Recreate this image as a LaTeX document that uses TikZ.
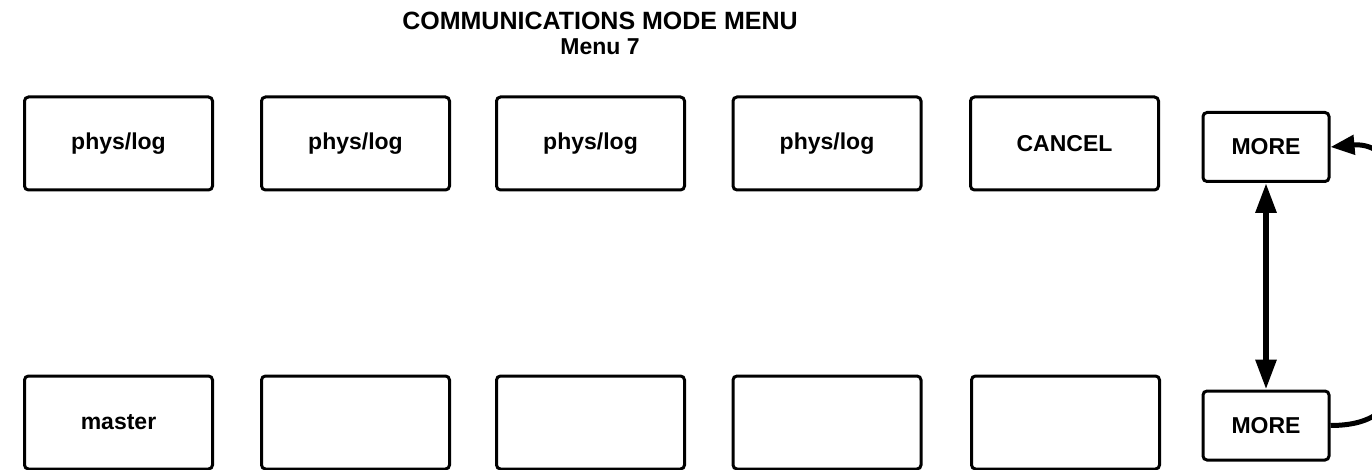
\documentclass[tikz,border=0pt]{standalone}
\usepackage{fontspec}
\setmainfont{Liberation Sans}
\usetikzlibrary{arrows.meta}

\tikzset{
  key/.style={draw, line width=3pt, rounded corners=4pt, minimum width=188pt,
    minimum height=93pt, inner sep=0pt, font=\fontsize{23}{27}\selectfont\bfseries},
  morekey/.style={key, minimum width=126pt, minimum height=69pt}
}

\begin{document}
\begin{tikzpicture}[x=1pt, y=-1pt]
            \useasboundingbox (0,0) rectangle (1372,470);

            % Draw the title
            \node[font=\fontsize{25}{29}\selectfont\bfseries] (title) at (600,21) {COMMUNICATIONS MODE MENU};
            \node[font=\fontsize{23}{27}\selectfont\bfseries] (menu) at (600,47) {Menu 7};

            % Draw the upper row of keys
            \node[key] (k1) at (118.5,143.5) {phys/log};
            \node[key] (k2) at (355.5,143.5) {phys/log};
            \node[key] (k3) at (590.5,143.5) {phys/log};
            \node[key] (k4) at (827,143.5) {phys/log};
            \node[key] (k5) at (1064.5,143.5) {CANCEL};
            \node[morekey] (more1) at (1266,147) {MORE};

            % Draw the lower row of keys
            \node[key] (m1) at (118.5,422.5) {master};
            \node[key] (m2) at (355.5,422.5) {};
            \node[key] (m3) at (590.5,422.5) {};
            \node[key] (m4) at (827,422.5) {};
            \node[key] (m5) at (1065.5,422.5) {};
            \node[morekey] (more2) at (1266,425.5) {MORE};

            % Draw the arrows between the MORE keys
            \draw[{Triangle[length=30pt,width=20pt]}-{Triangle[length=30pt,width=20pt]}, line width=6pt] (more1.south) -- (more2.north);
            \draw[-{Triangle[length=24pt,width=19pt]}, line width=5pt] (more2.east) .. controls (1382,425.5) and (1396,400) .. (1396,370)
                -- (1396,190) .. controls (1396,160) and (1375,143) .. (more1.east);

        \end{tikzpicture}
\end{document}
